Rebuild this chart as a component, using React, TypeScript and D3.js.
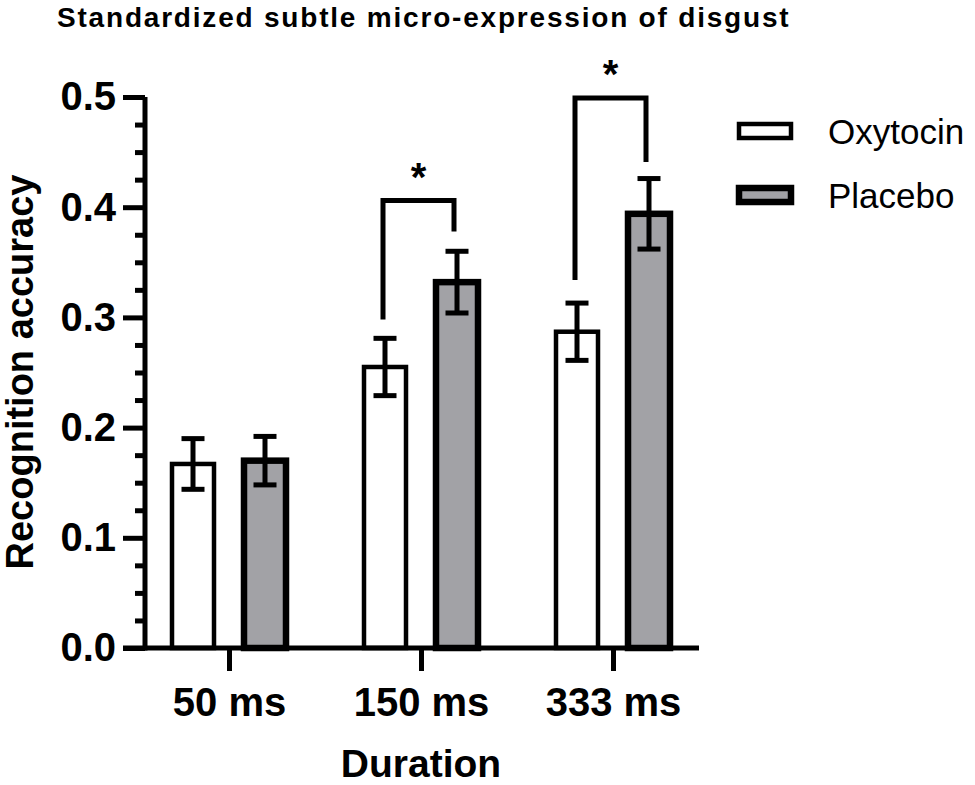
import React, { useEffect, useRef } from "react";
import * as d3 from "d3";

const durations = ["50 ms", "150 ms", "333 ms"];
const oxytocinMean = [0.167, 0.255, 0.287];
const oxytocinSem = [0.023, 0.026, 0.026];
const placeboMean = [0.17, 0.332, 0.394];
const placeboSem = [0.022, 0.028, 0.032];

const yTicks = [0, 0.1, 0.2, 0.3, 0.4, 0.5];
const yMinorTicks = [
  0.025, 0.05, 0.075, 0.125, 0.15, 0.175, 0.225, 0.25, 0.275, 0.325, 0.35,
  0.375, 0.425, 0.45, 0.475,
];

// significance brackets: group, top level, left leg end, right leg end
const sigGroups = ["150 ms", "333 ms"];
const sigTop = [0.406, 0.499];
const sigLeftEnd = [0.298, 0.334];
const sigRightEnd = [0.378, 0.441];
const sigLabels = ["*", "*"];

const seriesNames = ["Oxytocin", "Placebo"];

const FONT = "'Liberation Sans', Arial, Helvetica, sans-serif";
const GRAY = "#a2a2a6";

export default function App() {
  const svgRef = useRef<SVGSVGElement | null>(null);

  useEffect(() => {
    if (!svgRef.current) return;
    const svg = d3.select(svgRef.current);
    svg.selectAll("*").remove();

    const x0 = 145;
    const y0 = 648;

    const y = d3.scaleLinear().domain([0, 0.5]).range([648, 97]);
    const x = d3.scalePoint<string>().domain(durations).range([229, 613]);

    const offset = 36;
    const barW = 42;

    const series = [
      { mean: oxytocinMean, sem: oxytocinSem, dx: -offset, fill: "#ffffff", sw: 4.5 },
      { mean: placeboMean, sem: placeboSem, dx: offset, fill: GRAY, sw: 6.5 },
    ];

    // bars
    series.forEach((s) => {
      svg
        .append("g")
        .selectAll("rect")
        .data(durations)
        .enter()
        .append("rect")
        .attr("x", (d) => (x(d) as number) + s.dx - barW / 2)
        .attr("y", (_, i) => y(s.mean[i]))
        .attr("width", barW)
        .attr("height", (_, i) => y0 - y(s.mean[i]))
        .attr("fill", s.fill)
        .attr("stroke", "#000")
        .attr("stroke-width", s.sw);
    });

    // error bars
    series.forEach((s) => {
      const g = svg.append("g").attr("stroke", "#000").attr("stroke-width", 5);
      durations.forEach((d, i) => {
        const cx = (x(d) as number) + s.dx;
        const hi = y(s.mean[i] + s.sem[i]);
        const lo = y(s.mean[i] - s.sem[i]);
        g.append("line").attr("x1", cx).attr("x2", cx).attr("y1", hi).attr("y2", lo);
        g.append("line").attr("x1", cx - 11.5).attr("x2", cx + 11.5).attr("y1", hi).attr("y2", hi);
        g.append("line").attr("x1", cx - 11.5).attr("x2", cx + 11.5).attr("y1", lo).attr("y2", lo);
      });
    });

    // y axis
    const yAxis = svg
      .append("g")
      .attr("transform", `translate(${x0},0)`)
      .call(
        d3
          .axisLeft(y)
          .tickValues(yTicks)
          .tickSize(22)
          .tickSizeOuter(0)
          .tickPadding(7)
          .tickFormat(d3.format(".1f"))
      );
    yAxis.select(".domain").attr("stroke-width", 5).attr("d", `M0,${y(0.5)}V${y0 + 2.5}`);
    yAxis.selectAll(".tick line").attr("stroke-width", 5);
    yAxis
      .selectAll(".tick text")
      .attr("font-family", FONT)
      .attr("font-weight", "bold")
      .attr("font-size", 40)
      .attr("fill", "#000");

    const yMinor = svg
      .append("g")
      .attr("transform", `translate(${x0},0)`)
      .call(d3.axisLeft(y).tickValues(yMinorTicks).tickSize(10).tickFormat(() => ""));
    yMinor.select(".domain").remove();
    yMinor.selectAll(".tick line").attr("stroke-width", 5);

    // x axis
    svg
      .append("line")
      .attr("x1", 123)
      .attr("x2", 699)
      .attr("y1", y0)
      .attr("y2", y0)
      .attr("stroke", "#000")
      .attr("stroke-width", 5);
    const xAxis = svg
      .append("g")
      .attr("transform", `translate(0,${y0})`)
      .call(d3.axisBottom(x).tickSize(23).tickSizeOuter(0).tickPadding(17));
    xAxis.select(".domain").remove();
    xAxis.selectAll(".tick line").attr("stroke-width", 5);
    xAxis
      .selectAll(".tick text")
      .attr("font-family", FONT)
      .attr("font-weight", "bold")
      .attr("font-size", 40)
      .attr("fill", "#000");

    // axis titles
    svg
      .append("text")
      .attr("x", 421)
      .attr("y", 777)
      .attr("text-anchor", "middle")
      .attr("font-family", FONT)
      .attr("font-weight", "bold")
      .attr("font-size", 39)
      .text("Duration");

    svg
      .append("text")
      .attr("transform", "translate(33,372) rotate(-90)")
      .attr("text-anchor", "middle")
      .attr("font-family", FONT)
      .attr("font-weight", "bold")
      .attr("font-size", 38)
      .text("Recognition accuracy");

    // title
    svg
      .append("text")
      .attr("x", 57)
      .attr("y", 27)
      .attr("font-family", FONT)
      .attr("font-weight", "bold")
      .attr("font-size", 28)
      .attr("letter-spacing", 1.8)
      .text("Standardized subtle micro-expression of disgust");

    // significance brackets
    sigGroups.forEach((grp, i) => {
      const cx = x(grp) as number;
      const lx = cx - offset - 2;
      const rx = cx + offset - 3;
      const top = y(sigTop[i]);
      svg
        .append("path")
        .attr("d", `M${lx},${y(sigLeftEnd[i])}V${top}H${rx}V${y(sigRightEnd[i])}`)
        .attr("fill", "none")
        .attr("stroke", "#000")
        .attr("stroke-width", 5)
        .attr("stroke-linejoin", "miter");
      svg
        .append("text")
        .attr("x", (lx + rx) / 2)
        .attr("y", top - 10)
        .attr("text-anchor", "middle")
        .attr("font-family", FONT)
        .attr("font-weight", "bold")
        .attr("font-size", 40)
        .text(sigLabels[i]);
    });

    // legend
    const legend = svg.append("g");
    seriesNames.forEach((name, i) => {
      const s = series[i];
      const cy = i === 0 ? 131 : 195;
      legend
        .append("rect")
        .attr("x", 739)
        .attr("y", cy - 7)
        .attr("width", 52)
        .attr("height", 14)
        .attr("fill", s.fill)
        .attr("stroke", "#000")
        .attr("stroke-width", s.sw);
      legend
        .append("text")
        .attr("x", 828)
        .attr("y", cy + 13)
        .attr("font-family", FONT)
        .attr("font-size", 35)
        .text(name);
    });
  }, []);

  return (
    <svg
      ref={svgRef}
      width={975}
      height={785}
      style={{ position: "absolute", left: 0, top: 0, display: "block", background: "#fff" }}
    />
  );
}
